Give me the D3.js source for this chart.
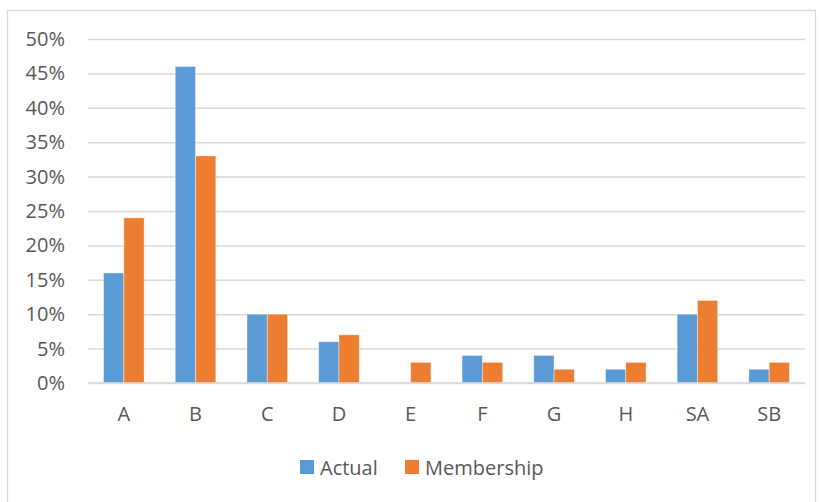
<!DOCTYPE html>
<html><head><meta charset="utf-8">
<script src="https://cdn.jsdelivr.net/npm/d3@7"></script>
<style>body{margin:0;background:#fff}svg{display:block}</style>
</head><body>
<script>
const categories = ["A","B","C","D","E","F","G","H","SA","SB"];
const seriesNames = ["Actual","Membership"];
const actual = [16,46,10,6,0,4,4,2,10,2];
const membership = [24,33,10,7,3,3,2,3,12,3];
const yTicks = [0,5,10,15,20,25,30,35,40,45,50];
const colors = ["#5B9BD5","#ED7D31"];

(function(){
const W = 822, H = 502;
const font = "'Open Sans', sans-serif";
const fs = "20px";
const svg = d3.select("body").append("svg").attr("width",W).attr("height",H);
svg.append("rect").attr("x",7.5).attr("y",10.5).attr("width",808).attr("height",495)
  .attr("fill","#fff").attr("stroke","#D9D9D9").attr("stroke-width",1.3);

const mLeft = 88, mRight = 805, mTop = 39, mBottom = 383;
const x = d3.scaleBand().domain(categories).range([mLeft,mRight]).paddingInner(0.434).paddingOuter(0.217);
const xs = d3.scaleBand().domain(seriesNames).range([0,x.bandwidth()]);
const y = d3.scaleLinear().domain([0,50]).range([mBottom,mTop]);

const yAxis = d3.axisLeft(y).tickValues(yTicks).tickFormat(d=>d+"%").tickSize(-(mRight-mLeft)).tickPadding(23);
const gy = svg.append("g").attr("transform",`translate(${mLeft},0)`).call(yAxis);
gy.select(".domain").remove();
gy.selectAll(".tick line").attr("stroke","#D9D9D9").attr("stroke-width",1.5);
gy.selectAll(".tick text").attr("fill","#595959").style("font-family",font).style("font-size",fs);

const data = categories.map((c,i)=>({c, vals:[actual[i],membership[i]]}));
const groups = svg.append("g").selectAll("g").data(data).join("g")
  .attr("transform",d=>`translate(${x(d.c)},0)`);
groups.selectAll("rect").data(d=>d.vals.map((v,j)=>({v,s:seriesNames[j],j})).filter(e=>e.v>0)).join("rect")
  .attr("x",e=>xs(e.s)).attr("width",xs.bandwidth())
  .attr("y",e=>y(e.v)).attr("height",e=>y(0)-y(e.v))
  .attr("fill",e=>colors[e.j]).attr("stroke","#fff").attr("stroke-opacity",0.5).attr("stroke-width",0.8);

svg.append("line").attr("x1",mLeft).attr("x2",mRight).attr("y1",y(0)).attr("y2",y(0))
  .attr("stroke","#D9D9D9").attr("stroke-width",1.5);

const xAxis = d3.axisBottom(x).tickSize(0).tickPadding(24);
const gx = svg.append("g").attr("transform",`translate(0,${mBottom})`).call(xAxis);
gx.select(".domain").remove();
gx.selectAll(".tick text").attr("fill","#595959").style("font-family",font).style("font-size",fs);

const legendX = [300, 405];
const lg = svg.append("g");
seriesNames.forEach((s,i)=>{
  lg.append("rect").attr("x",legendX[i]).attr("y",460).attr("width",14).attr("height",14).attr("fill",colors[i]);
  lg.append("text").attr("x",legendX[i]+20).attr("y",474.5).text(s)
    .attr("fill","#595959").style("font-family",font).style("font-size",fs);
});
})();
</script>
</body></html>
